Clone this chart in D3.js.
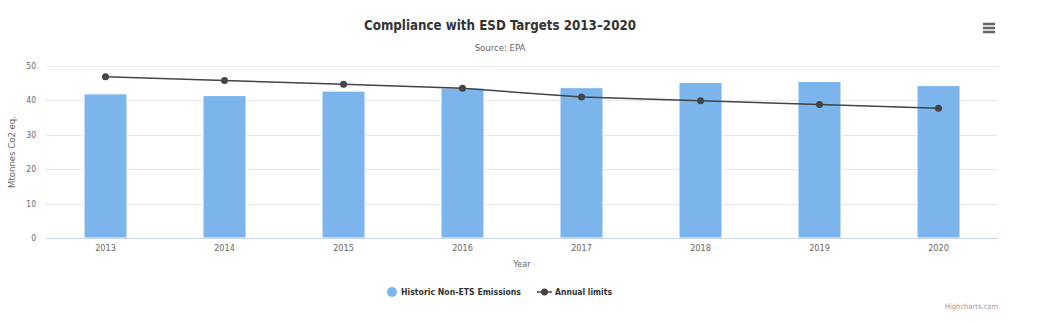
<!DOCTYPE html>
<html><head><meta charset="utf-8">
<script src="https://cdn.jsdelivr.net/npm/d3@7"></script>
<style>
body{margin:0;background:#fff;}
svg{font-family:"DejaVu Sans Condensed","DejaVu Sans",sans-serif;}
</style></head>
<body><svg id="c" width="1048" height="325"></svg>
<script>
const years = ["2013","2014","2015","2016","2017","2018","2019","2020"];
const emissions = [41.9, 41.4, 42.7, 43.6, 43.7, 45.2, 45.5, 44.3];
const limits = [46.9, 45.8, 44.7, 43.5, 41.0, 39.9, 38.8, 37.7];
const yTicks = [0, 10, 20, 30, 40, 50];

(function(){
const svg = d3.select("#c");
const pL = 46, pR = 998, pT = 66, pB = 238;
const xc = d3.scaleBand().domain(years).range([pL, pR]);
const y = d3.scaleLinear().domain([0, 50]).range([pB, pT]);
const cx = d => xc(d) + xc.bandwidth() / 2;

// grid
svg.append("g").selectAll("line").data(yTicks.slice(1)).join("line")
  .attr("x1", pL).attr("x2", pR)
  .attr("y1", d => Math.round(y(d)) + 0.5).attr("y2", d => Math.round(y(d)) + 0.5)
  .attr("stroke", "#e6e6e6");

// y labels
svg.append("g").selectAll("text").data(yTicks).join("text")
  .attr("x", 36).attr("y", d => y(d) + 3).attr("text-anchor", "end")
  .attr("font-size", 8.5).attr("fill", "#666").text(d => d);

// bars
svg.append("g").selectAll("rect").data(emissions).join("rect")
  .attr("x", (d, i) => cx(years[i]) - 21.5)
  .attr("width", 43)
  .attr("y", d => y(d)).attr("height", d => y(0) - y(d))
  .attr("fill", "#7cb5ec").attr("stroke", "#fff").attr("stroke-width", 1);

// x axis line
svg.append("line").attr("x1", pL).attr("x2", pR).attr("y1", pB + 0.5).attr("y2", pB + 0.5)
  .attr("stroke", "#ccd6eb");

// x labels
svg.append("g").selectAll("text").data(years).join("text")
  .attr("x", d => cx(d)).attr("y", 251).attr("text-anchor", "middle")
  .attr("font-size", 9).attr("fill", "#666").text(d => d);

// line
const line = d3.line().x((d, i) => cx(years[i])).y(d => y(d));
svg.append("path").datum(limits).attr("d", line).attr("fill", "none")
  .attr("stroke", "#434348").attr("stroke-width", 1.5);
svg.append("g").selectAll("circle").data(limits).join("circle")
  .attr("cx", (d, i) => cx(years[i])).attr("cy", d => y(d))
  .attr("r", 3.5).attr("fill", "#434348");

// titles
svg.append("text").attr("x", 500).attr("y", 30).attr("text-anchor", "middle")
  .attr("font-size", 14.5).attr("fill", "#333").attr("font-weight", "bold")
  .attr("textLength", 272).attr("lengthAdjust", "spacingAndGlyphs")
  .text("Compliance with ESD Targets 2013–2020");
svg.append("text").attr("x", 500).attr("y", 51).attr("text-anchor", "middle")
  .attr("font-size", 9.5).attr("fill", "#666").text("Source: EPA");
svg.append("text").attr("transform", "translate(15,152) rotate(-90)").attr("text-anchor", "middle")
  .attr("font-size", 9.5).attr("fill", "#666").text("Mtonnes Co2 eq.");
svg.append("text").attr("x", 522).attr("y", 267).attr("text-anchor", "middle")
  .attr("font-size", 9).attr("fill", "#666").text("Year");

// legend
const lg = svg.append("g");
lg.append("circle").attr("cx", 392).attr("cy", 292).attr("r", 5).attr("fill", "#7cb5ec");
lg.append("text").attr("x", 401).attr("y", 295).attr("font-size", 8.8).attr("font-weight", "bold")
  .attr("fill", "#333").attr("textLength", 120).attr("lengthAdjust", "spacingAndGlyphs")
  .text("Historic Non-ETS Emissions");
lg.append("line").attr("x1", 537).attr("x2", 552).attr("y1", 292).attr("y2", 292).attr("stroke", "#434348").attr("stroke-width", 1.5);
lg.append("circle").attr("cx", 544.5).attr("cy", 292).attr("r", 3.5).attr("fill", "#434348");
lg.append("text").attr("x", 555).attr("y", 295).attr("font-size", 8.8).attr("font-weight", "bold")
  .attr("fill", "#333").attr("textLength", 57).attr("lengthAdjust", "spacingAndGlyphs")
  .text("Annual limits");

// credits
svg.append("text").attr("x", 998).attr("y", 309).attr("text-anchor", "end")
  .attr("font-size", 7.5).attr("fill", "#999").text("Highcharts.com");

// menu icon
const m = svg.append("g");
[24, 28, 32].forEach(yy => m.append("line").attr("x1", 983).attr("x2", 995).attr("y1", yy).attr("y2", yy)
  .attr("stroke", "#666").attr("stroke-width", 2.5));
})();
</script></body></html>
